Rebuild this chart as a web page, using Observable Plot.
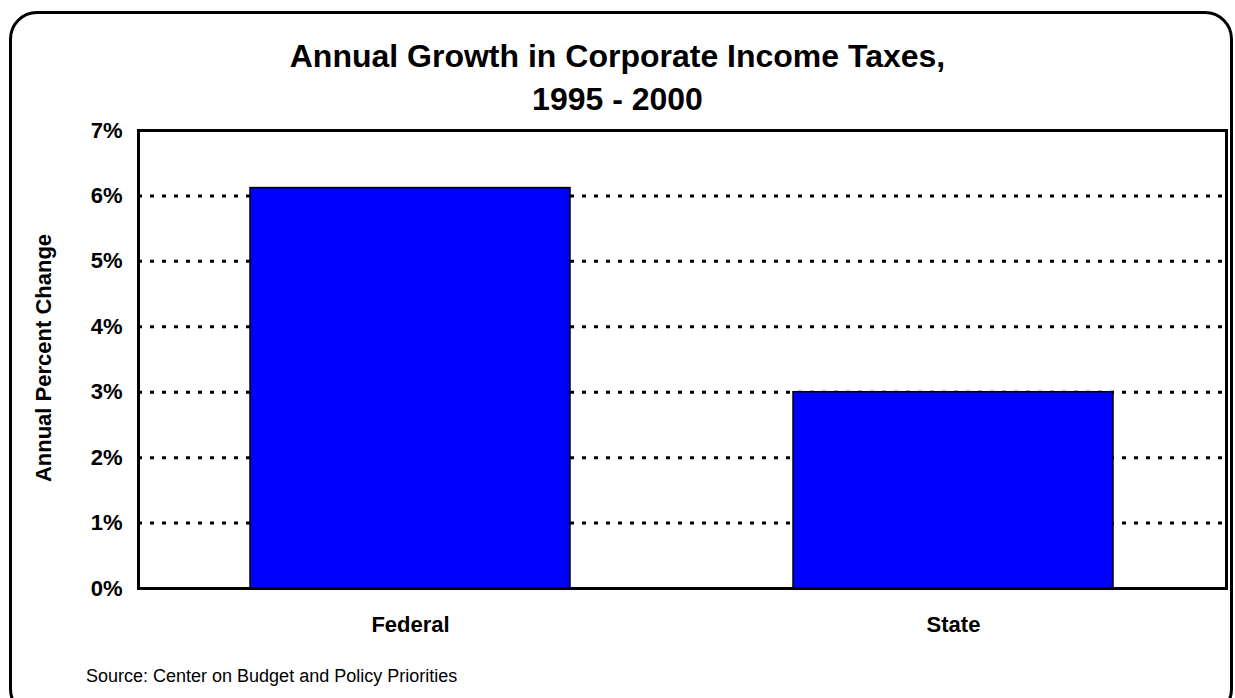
<!DOCTYPE html>
<html>
<head>
<meta charset="utf-8">
<script src="https://cdn.jsdelivr.net/npm/d3@7"></script>
<script src="https://cdn.jsdelivr.net/npm/@observablehq/plot@0.6"></script>
<style>
  html, body { margin: 0; padding: 0; background: #fff; overflow: hidden; }
  body { width: 1235px; height: 698px; position: relative; font-family: "Liberation Sans", Arial, sans-serif; }
  #border { position: absolute; left: 9px; top: 11px; width: 1218px; height: 700px; border: 3px solid #000; border-radius: 28px; box-sizing: content-box; }
  #title { position: absolute; left: 0; width: 1235px; top: 35px; text-align: center; font-weight: bold; font-size: 32px; line-height: 43px; color: #000; }
  #ylabel { position: absolute; left: 44px; top: 358px; transform: translate(-50%, -50%) rotate(-90deg); white-space: nowrap; font-weight: bold; font-size: 22px; }
  #source { position: absolute; left: 86px; top: 666px; font-size: 18px; }
  #chart { position: absolute; left: 0; top: 0; }
  #chart svg text { font-size: 22px; font-weight: bold; }
</style>
</head>
<body>
<div id="chart"></div>
<div id="border"></div>
<div id="title">Annual Growth in Corporate Income Taxes,<br>1995 - 2000</div>
<div id="ylabel">Annual Percent Change</div>
<div id="source">Source: Center on Budget and Policy Priorities</div>
<script>
const categories = ["Federal", "State"];
const values = [6.12, 3.0];
const yTicks = [0, 1, 2, 3, 4, 5, 6, 7];
const gridTicks = [1, 2, 3, 4, 5, 6];

const data = categories.map((c, i) => ({category: c, value: values[i]}));

const chart = Plot.plot({
  width: 1235,
  height: 698,
  marginLeft: 138,
  marginRight: 9,
  marginTop: 130,
  marginBottom: 110,
  style: {fontFamily: "'Liberation Sans', Arial, sans-serif", fontSize: "22px", fontWeight: "bold", color: "#000", background: "transparent"},
  x: {domain: categories, paddingInner: 0.41, paddingOuter: 0.206, label: null, tickSize: 0, tickPadding: 28},
  y: {domain: [0, 7], ticks: yTicks, tickFormat: d => d + "%", label: null, tickSize: 0, tickPadding: 16},
  marks: [
    Plot.ruleY(gridTicks, {stroke: "#000", strokeWidth: 3, strokeDasharray: "4,8"}),
    Plot.barY(data, {x: "category", y: "value", fill: "#0000ff", stroke: "#000", strokeWidth: 1.5}),
    Plot.frame({stroke: "#000", strokeWidth: 3})
  ]
});
document.getElementById("chart").appendChild(chart);
</script>
</body>
</html>
